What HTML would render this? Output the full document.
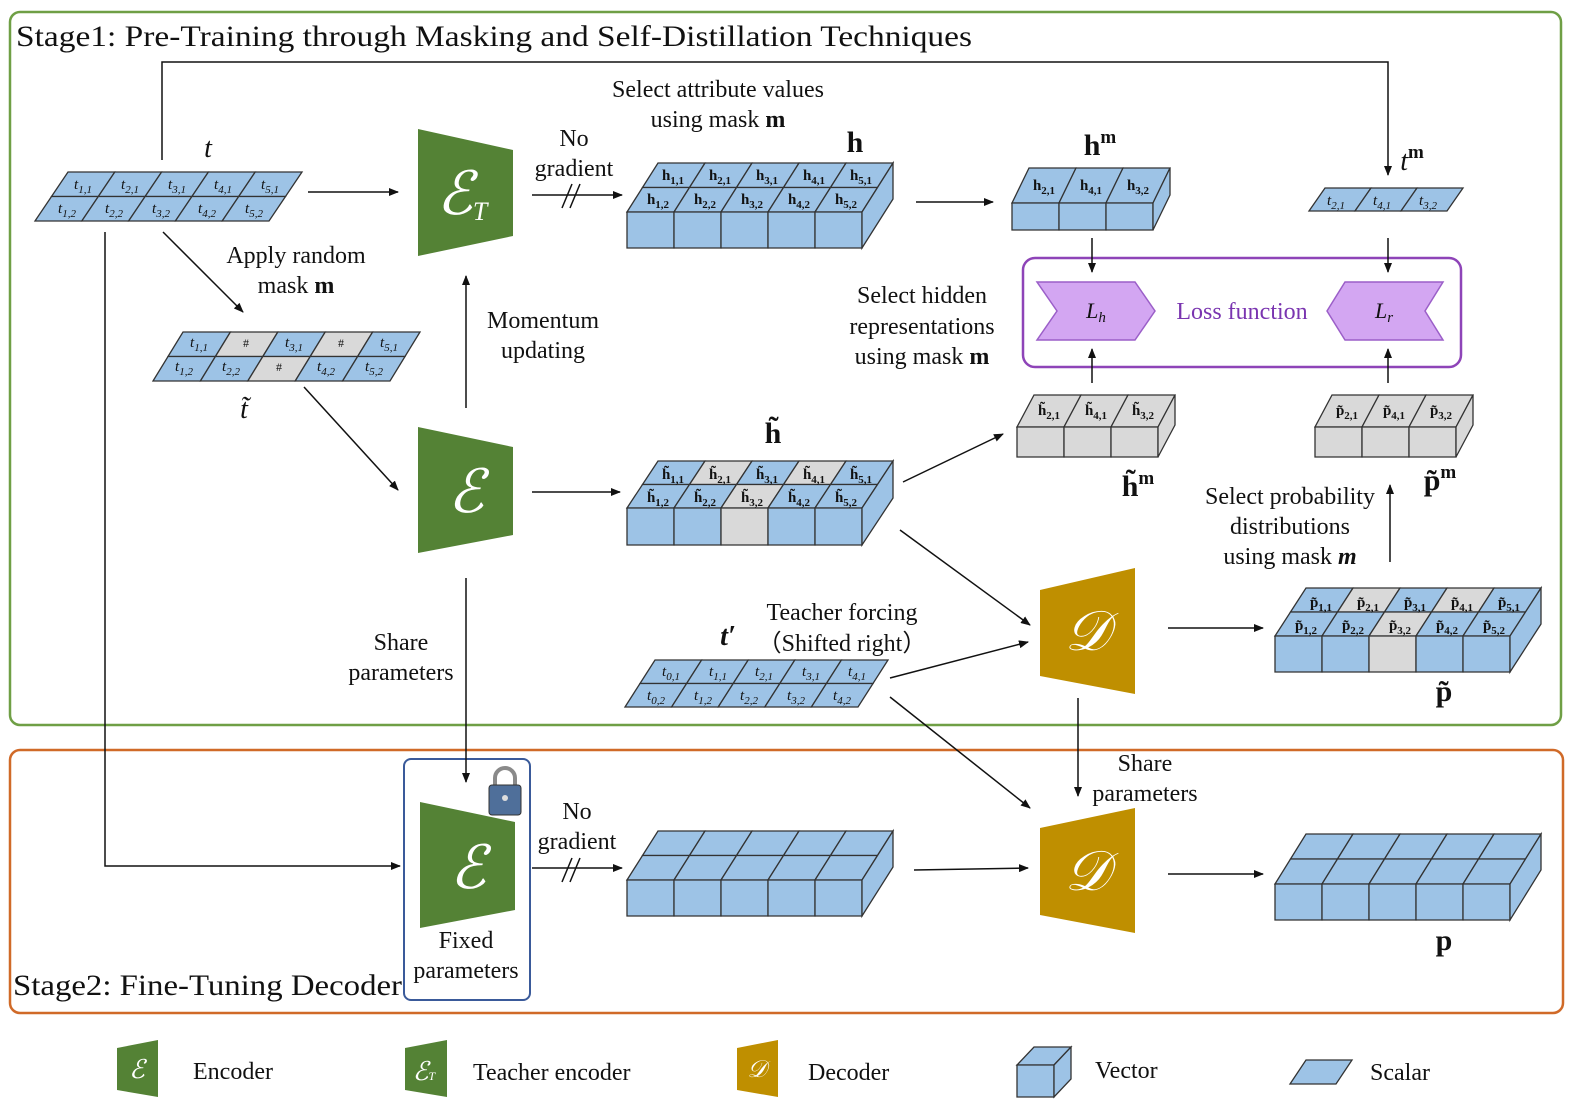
<!DOCTYPE html>
<html><head><meta charset="utf-8"><style>
html,body{margin:0;padding:0;background:#fff}
svg{display:block}
text{font-family:"Liberation Serif",serif;fill:#111}
.l{font-size:24px;text-anchor:middle}
.c{font-size:15px;text-anchor:middle;font-style:italic}
.b{font-size:15px;text-anchor:middle;font-weight:bold}
</style></head><body>
<svg id="s" width="1589" height="1116" viewBox="0 0 1589 1116" xmlns="http://www.w3.org/2000/svg">
<defs><marker id="a" markerWidth="10" markerHeight="8" refX="9" refY="4" orient="auto" markerUnits="userSpaceOnUse"><path d="M0,0 L10,4 L0,8z" fill="#111"/></marker></defs>
<rect x="10" y="12" width="1551" height="713" rx="10" fill="none" stroke="#6f9f45" stroke-width="2.5"/>
<rect x="10" y="750" width="1553" height="263" rx="10" fill="none" stroke="#d06a28" stroke-width="2.5"/>
<rect x="404" y="759" width="126" height="241" rx="7" fill="#fff" stroke="#3a5a9a" stroke-width="2"/>
<rect x="1023" y="258" width="438" height="109" rx="12" fill="none" stroke="#8e44b8" stroke-width="2.5"/>
<g id="shapes"></g>
<g stroke="#111" stroke-width="1.5" fill="none">
<polyline points="162,160 162,62 1388,62 1388,175" marker-end="url(#a)"/>
<line x1="308" y1="192" x2="398" y2="192" marker-end="url(#a)"/>
<line x1="163" y1="232" x2="243" y2="312" marker-end="url(#a)"/>
<polyline points="105,232 105,866 400,866" marker-end="url(#a)"/>
<line x1="304" y1="387" x2="398" y2="490" marker-end="url(#a)"/>
<line x1="466" y1="408" x2="466" y2="276" marker-end="url(#a)"/>
<line x1="532" y1="195" x2="622" y2="195" marker-end="url(#a)"/>
<line x1="562" y1="208" x2="572" y2="184"/><line x1="570" y1="208" x2="580" y2="184"/>
<line x1="916" y1="202" x2="993" y2="202" marker-end="url(#a)"/>
<line x1="532" y1="492" x2="620" y2="492" marker-end="url(#a)"/>
<line x1="903" y1="482" x2="1003" y2="434" marker-end="url(#a)"/>
<line x1="1092" y1="238" x2="1092" y2="272" marker-end="url(#a)"/>
<line x1="1092" y1="383" x2="1092" y2="349" marker-end="url(#a)"/>
<line x1="1388" y1="238" x2="1388" y2="272" marker-end="url(#a)"/>
<line x1="1388" y1="383" x2="1388" y2="349" marker-end="url(#a)"/>
<line x1="1390" y1="562" x2="1390" y2="485" marker-end="url(#a)"/>
<line x1="900" y1="530" x2="1030" y2="625" marker-end="url(#a)"/>
<line x1="890" y1="678" x2="1028" y2="642" marker-end="url(#a)"/>
<line x1="1168" y1="628" x2="1263" y2="628" marker-end="url(#a)"/>
<line x1="466" y1="578" x2="466" y2="782" marker-end="url(#a)"/>
<line x1="1078" y1="698" x2="1078" y2="796" marker-end="url(#a)"/>
<line x1="890" y1="697" x2="1030" y2="808" marker-end="url(#a)"/>
<line x1="532" y1="868" x2="622" y2="868" marker-end="url(#a)"/>
<line x1="562" y1="882" x2="572" y2="858"/><line x1="570" y1="882" x2="580" y2="858"/>
<line x1="914" y1="870" x2="1028" y2="868" marker-end="url(#a)"/>
<line x1="1168" y1="874" x2="1263" y2="874" marker-end="url(#a)"/>
</g>
<path d="M495,786 v-8 a10,10 0 0 1 20,0 v8" fill="none" stroke="#8a8a8a" stroke-width="4"/>
<rect x="489" y="785" width="32" height="30" rx="3" fill="#4f6f9a" stroke="#333"/>
<circle cx="505" cy="798" r="3" fill="#ddd"/>
<polygon points="1037,282 1135,282 1155,311 1135,340 1037,340 1057,311" fill="#d3a6f2" stroke="#9b5fc8" stroke-width="1.5"/>
<polygon points="1345,282 1443,282 1425,311 1443,340 1345,340 1327,311" fill="#d3a6f2" stroke="#9b5fc8" stroke-width="1.5"/>
<text x="1096" y="318" style="font-size:22px;font-style:italic;text-anchor:middle">L<tspan style="font-size:15px" dy="4">h</tspan></text>
<text x="1384" y="318" style="font-size:22px;font-style:italic;text-anchor:middle">L<tspan style="font-size:15px" dy="4">r</tspan></text>
<text x="1242" y="319" class="l" style="fill:#7a35b0">Loss function</text>
<g style="fill:#fff;font-style:italic;text-anchor:middle">
<text x="462" y="214" style="font-size:60px;fill:#fff">ℰ<tspan style="font-size:26px" dy="6">T</tspan></text>
<text x="466" y="512" style="font-size:60px;fill:#fff">ℰ</text>
<text x="468" y="888" style="font-size:60px;fill:#fff">ℰ</text>
<text x="1087" y="650" style="font-size:56px;fill:#fff">𝒟</text>
<text x="1087" y="890" style="font-size:56px;fill:#fff">𝒟</text>
<text x="137" y="1078" style="font-size:26px;fill:#fff">ℰ</text>
<text x="424" y="1080" style="font-size:26px;fill:#fff">ℰ<tspan style="font-size:12px">T</tspan></text>
<text x="757" y="1077" style="font-size:24px;fill:#fff">𝒟</text>
</g>
<text x="16" y="46" style="font-size:30px" textLength="956" lengthAdjust="spacingAndGlyphs">Stage1: Pre-Training through Masking and  Self-Distillation Techniques</text>
<text x="13" y="995" style="font-size:30px" textLength="389" lengthAdjust="spacingAndGlyphs">Stage2: Fine-Tuning Decoder</text>
<text class="l" x="718" y="97">Select attribute values</text>
<text class="l" x="718" y="127">using mask <tspan font-weight="bold">m</tspan></text>
<text class="l" x="574" y="146">No</text><text class="l" x="574" y="176">gradient</text>
<text class="l" x="208" y="157" style="font-style:italic;font-size:28px">t</text>
<text class="l" x="855" y="152" style="font-weight:bold;font-size:30px">h</text>
<text class="l" x="1100" y="155" style="font-weight:bold;font-size:30px">h<tspan dy="-12" font-size="19">m</tspan></text>
<text class="l" x="1412" y="170" style="font-size:28px"><tspan font-style="italic">t</tspan><tspan dy="-12" font-size="19" font-weight="bold">m</tspan></text>
<text class="l" x="296" y="263">Apply random</text><text class="l" x="296" y="293">mask <tspan font-weight="bold">m</tspan></text>
<text class="l" x="543" y="328">Momentum</text><text class="l" x="543" y="358">updating</text>
<text class="l" x="922" y="303">Select hidden</text><text class="l" x="922" y="334">representations</text><text class="l" x="922" y="364">using mask <tspan font-weight="bold">m</tspan></text>
<text class="l" x="244" y="418" style="font-style:italic;font-size:28px">t̃</text>
<text class="l" x="773" y="443" style="font-weight:bold;font-size:30px">h̃</text>
<text class="l" x="1138" y="496" style="font-weight:bold;font-size:30px">h̃<tspan dy="-12" font-size="19">m</tspan></text>
<text class="l" x="1440" y="490" style="font-weight:bold;font-size:30px">p̃<tspan dy="-12" font-size="19">m</tspan></text>
<text class="l" x="1290" y="504">Select probability</text><text class="l" x="1290" y="534">distributions</text><text class="l" x="1290" y="564">using mask <tspan font-weight="bold" font-style="italic">m</tspan></text>
<text class="l" x="842" y="620">Teacher forcing</text><text class="l" x="842" y="651">（Shifted right）</text>
<text class="l" x="728" y="645" style="font-style:italic;font-weight:bold;font-size:28px">t′</text>
<text class="l" x="401" y="650">Share</text><text class="l" x="401" y="680">parameters</text>
<text class="l" x="1444" y="701" style="font-weight:bold;font-size:30px">p̃</text>
<text class="l" x="1145" y="771">Share</text><text class="l" x="1145" y="801">parameters</text>
<text class="l" x="577" y="819">No</text><text class="l" x="577" y="849">gradient</text>
<text class="l" x="466" y="948">Fixed</text><text class="l" x="466" y="978">parameters</text>
<text class="l" x="1444" y="950" style="font-weight:bold;font-size:30px">p</text>
<text x="193" y="1079" style="font-size:24px">Encoder</text>
<text x="473" y="1080" style="font-size:24px">Teacher encoder</text>
<text x="808" y="1080" style="font-size:24px">Decoder</text>
<text x="1095" y="1078" style="font-size:24px">Vector</text>
<text x="1370" y="1080" style="font-size:24px">Scalar</text>
<g>
<text class="c" x="83" y="189">t<tspan font-size="11" dy="4">1,1</tspan></text>
<text class="c" x="130" y="189">t<tspan font-size="11" dy="4">2,1</tspan></text>
<text class="c" x="177" y="189">t<tspan font-size="11" dy="4">3,1</tspan></text>
<text class="c" x="223" y="189">t<tspan font-size="11" dy="4">4,1</tspan></text>
<text class="c" x="270" y="189">t<tspan font-size="11" dy="4">5,1</tspan></text>
<text class="c" x="67" y="213">t<tspan font-size="11" dy="4">1,2</tspan></text>
<text class="c" x="114" y="213">t<tspan font-size="11" dy="4">2,2</tspan></text>
<text class="c" x="161" y="213">t<tspan font-size="11" dy="4">3,2</tspan></text>
<text class="c" x="207" y="213">t<tspan font-size="11" dy="4">4,2</tspan></text>
<text class="c" x="254" y="213">t<tspan font-size="11" dy="4">5,2</tspan></text>
<text class="c" x="199" y="347">t<tspan font-size="11" dy="4">1,1</tspan></text>
<text class="c" x="246" y="347" style="font-style:normal;font-size:12px">#</text>
<text class="c" x="294" y="347">t<tspan font-size="11" dy="4">3,1</tspan></text>
<text class="c" x="341" y="347" style="font-style:normal;font-size:12px">#</text>
<text class="c" x="389" y="347">t<tspan font-size="11" dy="4">5,1</tspan></text>
<text class="c" x="184" y="371">t<tspan font-size="11" dy="4">1,2</tspan></text>
<text class="c" x="231" y="371">t<tspan font-size="11" dy="4">2,2</tspan></text>
<text class="c" x="279" y="371" style="font-style:normal;font-size:12px">#</text>
<text class="c" x="326" y="371">t<tspan font-size="11" dy="4">4,2</tspan></text>
<text class="c" x="374" y="371">t<tspan font-size="11" dy="4">5,2</tspan></text>
<text class="c" x="671" y="676">t<tspan font-size="11" dy="4">0,1</tspan></text>
<text class="c" x="718" y="676">t<tspan font-size="11" dy="4">1,1</tspan></text>
<text class="c" x="764" y="676">t<tspan font-size="11" dy="4">2,1</tspan></text>
<text class="c" x="811" y="676">t<tspan font-size="11" dy="4">3,1</tspan></text>
<text class="c" x="857" y="676">t<tspan font-size="11" dy="4">4,1</tspan></text>
<text class="c" x="656" y="700">t<tspan font-size="11" dy="4">0,2</tspan></text>
<text class="c" x="703" y="700">t<tspan font-size="11" dy="4">1,2</tspan></text>
<text class="c" x="749" y="700">t<tspan font-size="11" dy="4">2,2</tspan></text>
<text class="c" x="796" y="700">t<tspan font-size="11" dy="4">3,2</tspan></text>
<text class="c" x="842" y="700">t<tspan font-size="11" dy="4">4,2</tspan></text>
<text class="c" x="1336" y="205">t<tspan font-size="11" dy="4">2,1</tspan></text>
<text class="c" x="1382" y="205">t<tspan font-size="11" dy="4">4,1</tspan></text>
<text class="c" x="1428" y="205">t<tspan font-size="11" dy="4">3,2</tspan></text>
</g>
<g>
<text class="b" x="673" y="180">h<tspan font-size="11" dy="4">1,1</tspan></text>
<text class="b" x="720" y="180">h<tspan font-size="11" dy="4">2,1</tspan></text>
<text class="b" x="767" y="180">h<tspan font-size="11" dy="4">3,1</tspan></text>
<text class="b" x="814" y="180">h<tspan font-size="11" dy="4">4,1</tspan></text>
<text class="b" x="861" y="180">h<tspan font-size="11" dy="4">5,1</tspan></text>
<text class="b" x="658" y="204">h<tspan font-size="11" dy="4">1,2</tspan></text>
<text class="b" x="705" y="204">h<tspan font-size="11" dy="4">2,2</tspan></text>
<text class="b" x="752" y="204">h<tspan font-size="11" dy="4">3,2</tspan></text>
<text class="b" x="799" y="204">h<tspan font-size="11" dy="4">4,2</tspan></text>
<text class="b" x="846" y="204">h<tspan font-size="11" dy="4">5,2</tspan></text>
<text class="b" x="673" y="479">h̃<tspan font-size="11" dy="4">1,1</tspan></text>
<text class="b" x="720" y="479">h̃<tspan font-size="11" dy="4">2,1</tspan></text>
<text class="b" x="767" y="479">h̃<tspan font-size="11" dy="4">3,1</tspan></text>
<text class="b" x="814" y="479">h̃<tspan font-size="11" dy="4">4,1</tspan></text>
<text class="b" x="861" y="479">h̃<tspan font-size="11" dy="4">5,1</tspan></text>
<text class="b" x="658" y="502">h̃<tspan font-size="11" dy="4">1,2</tspan></text>
<text class="b" x="705" y="502">h̃<tspan font-size="11" dy="4">2,2</tspan></text>
<text class="b" x="752" y="502">h̃<tspan font-size="11" dy="4">3,2</tspan></text>
<text class="b" x="799" y="502">h̃<tspan font-size="11" dy="4">4,2</tspan></text>
<text class="b" x="846" y="502">h̃<tspan font-size="11" dy="4">5,2</tspan></text>
<text class="b" x="1044" y="190">h<tspan font-size="11" dy="4">2,1</tspan></text>
<text class="b" x="1091" y="190">h<tspan font-size="11" dy="4">4,1</tspan></text>
<text class="b" x="1138" y="190">h<tspan font-size="11" dy="4">3,2</tspan></text>
<text class="b" x="1049" y="415">h̃<tspan font-size="11" dy="4">2,1</tspan></text>
<text class="b" x="1096" y="415">h̃<tspan font-size="11" dy="4">4,1</tspan></text>
<text class="b" x="1143" y="415">h̃<tspan font-size="11" dy="4">3,2</tspan></text>
<text class="b" x="1347" y="415">p̃<tspan font-size="11" dy="4">2,1</tspan></text>
<text class="b" x="1394" y="415">p̃<tspan font-size="11" dy="4">4,1</tspan></text>
<text class="b" x="1441" y="415">p̃<tspan font-size="11" dy="4">3,2</tspan></text>
<text class="b" x="1321" y="607">p̃<tspan font-size="11" dy="4">1,1</tspan></text>
<text class="b" x="1368" y="607">p̃<tspan font-size="11" dy="4">2,1</tspan></text>
<text class="b" x="1415" y="607">p̃<tspan font-size="11" dy="4">3,1</tspan></text>
<text class="b" x="1462" y="607">p̃<tspan font-size="11" dy="4">4,1</tspan></text>
<text class="b" x="1509" y="607">p̃<tspan font-size="11" dy="4">5,1</tspan></text>
<text class="b" x="1306" y="630">p̃<tspan font-size="11" dy="4">1,2</tspan></text>
<text class="b" x="1353" y="630">p̃<tspan font-size="11" dy="4">2,2</tspan></text>
<text class="b" x="1400" y="630">p̃<tspan font-size="11" dy="4">3,2</tspan></text>
<text class="b" x="1447" y="630">p̃<tspan font-size="11" dy="4">4,2</tspan></text>
<text class="b" x="1494" y="630">p̃<tspan font-size="11" dy="4">5,2</tspan></text>
</g>
</svg>
<script>
var NS="http://www.w3.org/2000/svg",G=document.getElementById("shapes");
var B="#9dc3e6",Y="#d9d9d9";
function poly(pts,fill,sw){var p=document.createElementNS(NS,"polygon");p.setAttribute("points",pts.map(function(q){return q[0]+","+q[1]}).join(" "));p.setAttribute("fill",fill);p.setAttribute("stroke",sw===0?"none":"#333");p.setAttribute("stroke-width",sw||1.3);G.appendChild(p);}
function scal(x,y,n,w,rh,rows,sk,gr){gr=gr||[];var tot=rh*rows;for(var r=0;r<rows;r++)for(var i=0;i<n;i++){var y0=y+r*rh,y1=y0+rh,o0=sk*(r*rh)/tot,o1=sk*((r+1)*rh)/tot;var g=gr.indexOf(r+":"+i)>=0;poly([[x+i*w-o0,y0],[x+(i+1)*w-o0,y0],[x+(i+1)*w-o1,y1],[x+i*w-o1,y1]],g?Y:B);}}
function blk(x,y,n,w,h,dx,dy,rows,gr){gr=gr||[];for(var r=0;r<rows;r++){var f0=(rows-r)/rows,f1=(rows-r-1)/rows;for(var i=0;i<n;i++){var g=gr.indexOf("t"+r+":"+i)>=0;poly([[x+i*w+dx*f0,y-dy*f0],[x+(i+1)*w+dx*f0,y-dy*f0],[x+(i+1)*w+dx*f1,y-dy*f1],[x+i*w+dx*f1,y-dy*f1]],g?Y:B);}}
for(var i=0;i<n;i++){poly([[x+i*w,y],[x+(i+1)*w,y],[x+(i+1)*w,y+h],[x+i*w,y+h]],gr.indexOf("f:"+i)>=0?Y:B);}
var X=x+n*w;poly([[X,y],[X+dx,y-dy],[X+dx,y-dy+h],[X,y+h]],gr.indexOf("all")>=0?Y:B);}
function trap(pts,c){poly(pts,c,0);}
scal(68,172,5,46.8,24.5,2,33);
scal(183,332,5,47.4,24.5,2,30,["0:1","0:3","1:2"]);
scal(655,660,5,46.6,23.5,2,30);
scal(1325,188,3,46,23,1,16);
scal(1306,1060,1,46,24,1,16);
blk(627,212,5,47,36,31,49,2);
blk(627,508,5,47,37,31,47,2,["t0:1","t0:3","t1:2","f:2"]);
blk(1012,203,3,47,27,17,35,1);
var A=["t0:0","t0:1","t0:2","f:0","f:1","f:2","all"];
blk(1017,427,3,47,30,17,32,1,A);
blk(1315,427,3,47,30,17,32,1,A);
blk(1275,636,5,47,36,31,48,2,["t0:1","t0:3","t1:2","f:2"]);
blk(627,880,5,47,36,31,49,2);
blk(1275,884,5,47,36,31,50,2);
blk(1017,1065,1,37,32,17,18,1);
trap([[418,129],[513,150],[513,236],[418,256]],"#548235");
trap([[418,427],[513,447],[513,535],[418,553]],"#548235");
trap([[420,802],[515,822],[515,910],[420,928]],"#548235");
trap([[1040,590],[1135,568],[1135,694],[1040,676]],"#bf8f00");
trap([[1040,828],[1135,808],[1135,933],[1040,915]],"#bf8f00");
trap([[117,1048],[158,1040],[158,1097],[117,1090]],"#548235");
trap([[405,1048],[447,1040],[447,1097],[405,1090]],"#548235");
trap([[737,1048],[778,1040],[778,1097],[737,1090]],"#bf8f00");
</script>
</body></html>
